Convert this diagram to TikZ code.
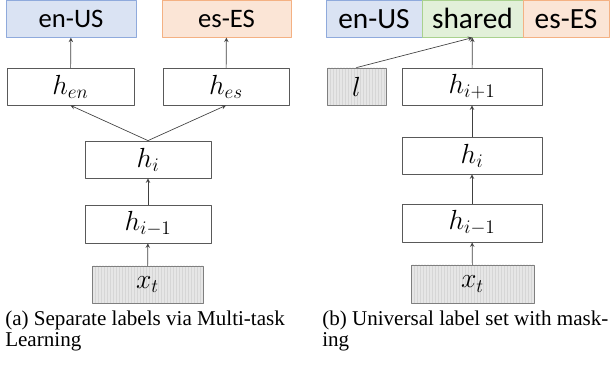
\documentclass[tikz,border=0pt]{standalone}
\usepackage{fontspec}
\setmainfont{Liberation Serif}
\newfontfamily\labelfont{Carlito}
\definecolor{enfill}{HTML}{DAE3F3}
\definecolor{endraw}{HTML}{8FAADC}
\definecolor{esfill}{HTML}{FBE5D6}
\definecolor{esdraw}{HTML}{F4B183}
\definecolor{shfill}{HTML}{E2F0D9}
\definecolor{shdraw}{HTML}{A9D18E}
\definecolor{infill}{HTML}{D6D6D6}
\definecolor{instripe}{HTML}{E6E6E6}
\definecolor{indraw}{HTML}{7F7F7F}
\definecolor{boxdraw}{HTML}{595959}
\definecolor{arrowcol}{HTML}{404040}
\tikzset{
	hbox/.style={draw=boxdraw, line width=0.6pt, minimum height=27.75pt, inner sep=0pt, font=\fontsize{22}{24}\selectfont},
	inbox/.style={hbox, draw=indraw, fill=infill, path picture={
		\foreach \k in {2,5,...,140}
			\draw[instripe, line width=1.1pt] ([xshift=\k*0.75pt]path picture bounding box.south west) -- ([xshift=\k*0.75pt]path picture bounding box.north west);
	}},
	lab/.style={line width=0.6pt, minimum height=27.75pt, inner sep=0pt},
	labA/.style={lab, font=\labelfont\fontsize{20}{22}\selectfont},
	labB/.style={lab, font=\labelfont\fontsize{22}{24}\selectfont},
	captext/.style={anchor=base west, align=left, inner sep=0pt, font=\fontsize{15.8}{15.8}\selectfont}
}
\begin{document}
\begin{tikzpicture}[x=0.75pt, y=-0.75pt, >=stealth, line join=round, line cap=round]
	\useasboundingbox (0,0) rectangle (610,366);
	\node[labA, draw=endraw, fill=enfill, minimum width=97.5pt] (enA) at (71,18.75) {en-US};
	\node[labA, draw=esdraw, fill=esfill, minimum width=96.75pt] (esA) at (226.5,18.75) {es-ES};
	\node[hbox, minimum width=95.25pt] (hen) at (70.5,86.5) {$h_{en}$};
	\node[hbox, minimum width=94.5pt] (hes) at (226,86.5) {$h_{es}$};
	\node[hbox, minimum width=94.5pt] (hiA) at (148,159.5) {$h_i$};
	\node[hbox, minimum width=94.5pt, minimum height=28.5pt] (hmA) at (148,224) {$h_{i-1}$};
	\node[inbox, minimum width=83.25pt] (xtA) at (147.5,284.5) {$x_t$};
	\draw[->, arrowcol, line width=0.5pt] (hen) -- (enA);
	\draw[->, arrowcol, line width=0.5pt] (hes) -- (esA);
	\draw[->, arrowcol, line width=0.5pt] (hiA.north) -- (hen.south);
	\draw[->, arrowcol, line width=0.5pt] (hiA.north) -- (hes.south);
	\draw[->, arrowcol, line width=0.5pt] (hmA) -- (hiA);
	\draw[->, arrowcol, line width=0.5pt] (xtA) -- (hmA);
	\node[captext] (capA) at (5,347) {(a) Separate labels via Multi-task\\Learning};
	\node[labB, draw=endraw, fill=enfill, minimum width=72pt] (enB) at (374,18.75) {en-US};
	\node[labB, draw=shdraw, fill=shfill, minimum width=75.75pt] (shB) at (472.5,18.75) {shared};
	\node[labB, draw=esdraw, fill=esfill, minimum width=64.5pt] (esB) at (566,18.75) {es-ES};
	\node[inbox, minimum width=44.25pt] (lB) at (356.5,86.5) {$l$};
	\node[hbox, minimum width=105pt] (hpB) at (472,86.5) {$h_{i+1}$};
	\node[hbox, minimum width=105pt] (hiB) at (472,155.5) {$h_i$};
	\node[hbox, minimum width=105pt, minimum height=28.5pt] (hmB) at (472,223) {$h_{i-1}$};
	\node[inbox, minimum width=92.25pt, minimum height=28.5pt] (xtB) at (472.5,284) {$x_t$};
	\draw[->, arrowcol, line width=0.5pt] (lB.north) -- (shB.south);
	\draw[->, arrowcol, line width=0.5pt] (hpB) -- (shB);
	\draw[->, arrowcol, line width=0.5pt] (hiB) -- (hpB);
	\draw[->, arrowcol, line width=0.5pt] (hmB) -- (hiB);
	\draw[->, arrowcol, line width=0.5pt] (xtB) -- (hmB);
	\node[captext] (capB) at (322,347) {(b) Universal label set with mask-\\ing};
\end{tikzpicture}
\end{document}
